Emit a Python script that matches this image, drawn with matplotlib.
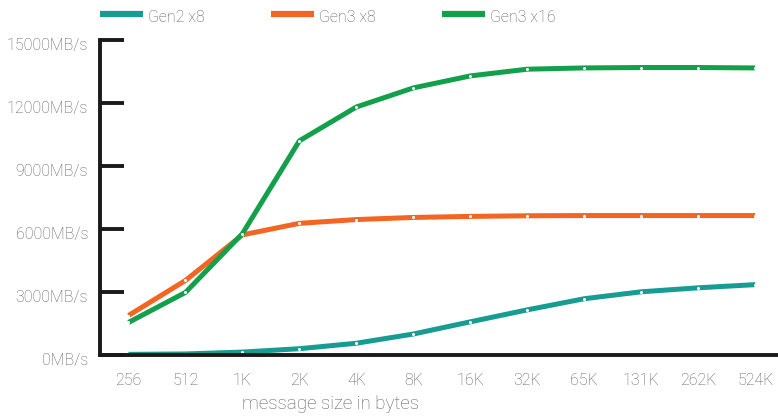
import numpy as np
import matplotlib
matplotlib.use('Agg')
import matplotlib.pyplot as plt
import matplotlib.transforms as mtransforms

# メッセージサイズと帯域幅 (MB/s)
sizes = ['256', '512', '1K', '2K', '4K', '8K', '16K', '32K', '65K', '131K', '262K', '524K']
gen2_x8 = [30, 50, 140, 300, 560, 1000, 1580, 2150, 2680, 3010, 3200, 3350]
gen3_x8 = [1880, 3550, 5720, 6270, 6450, 6550, 6600, 6630, 6640, 6640, 6640, 6640]
gen3_x16 = [1550, 2980, 5780, 10200, 11810, 12720, 13290, 13610, 13670, 13690, 13690, 13670]
y_ticks = [0, 3000, 6000, 9000, 12000, 15000]

series = [
    ('Gen2 x8', gen2_x8, '#169c92'),
    ('Gen3 x8', gen3_x8, '#f26522'),
    ('Gen3 x16', gen3_x16, '#13a04a'),
]

plt.rcParams['font.family'] = ['Roboto', 'DejaVu Sans']
text_color = '#5e5e5e'

fig = plt.figure(figsize=(7.78, 4.18), dpi=100)
ax = fig.add_axes([100 / 778, (418 - 355) / 418, 678 / 778, 315 / 418])

x = np.arange(len(sizes))
for name, vals, color in series:
    ax.plot(x, vals, color=color, lw=3.6, solid_capstyle='butt', label=name,
            marker='o', markersize=1.2, markerfacecolor='white', markeredgecolor='white')

ax.set_xlim(-0.5, len(sizes) - 0.6)
ax.set_ylim(0, 15000)
ax.set_xticks(x)
ax.set_xticklabels(sizes)
ax.set_yticks(y_ticks)
ax.set_yticklabels([f'{v}MB/s' for v in y_ticks])

for side in ['top', 'right']:
    ax.spines[side].set_visible(False)
for side in ['left', 'bottom']:
    ax.spines[side].set_linewidth(2.8)
    ax.spines[side].set_color('#1a1a1a')

ax.tick_params(axis='y', direction='in', length=17, width=2.8, color='#1a1a1a',
               labelsize=11.5, labelcolor=text_color, pad=8.5)
ax.tick_params(axis='x', length=0, labelsize=11.5, labelcolor=text_color, pad=13)
# y軸ラベルを少し下にずらす
shift = mtransforms.ScaledTranslation(0, -4 / 100, fig.dpi_scale_trans)
for lbl in ax.get_yticklabels():
    lbl.set_transform(lbl.get_transform() + shift)
for lbl in ax.get_xticklabels() + ax.get_yticklabels():
    lbl.set_fontweight('light')

fig.text(330 / 778, 1 - 404 / 418, 'message size in bytes', ha='center', va='center',
         fontsize=13.5, color=text_color, fontweight='light')

# 凡例は上部に手動で配置
leg_x = [100, 271, 442]
for (name, vals, color), lx in zip(series, leg_x):
    fig.add_artist(plt.Line2D([lx / 778, (lx + 43) / 778], [1 - 14 / 418, 1 - 14 / 418],
                              color=color, lw=4.5, solid_capstyle='butt'))
    fig.text((lx + 48) / 778, 1 - 18 / 418, name, ha='left', va='center',
             fontsize=11.5, color=text_color, fontweight='light')

fig.savefig('out.png', dpi=100)
